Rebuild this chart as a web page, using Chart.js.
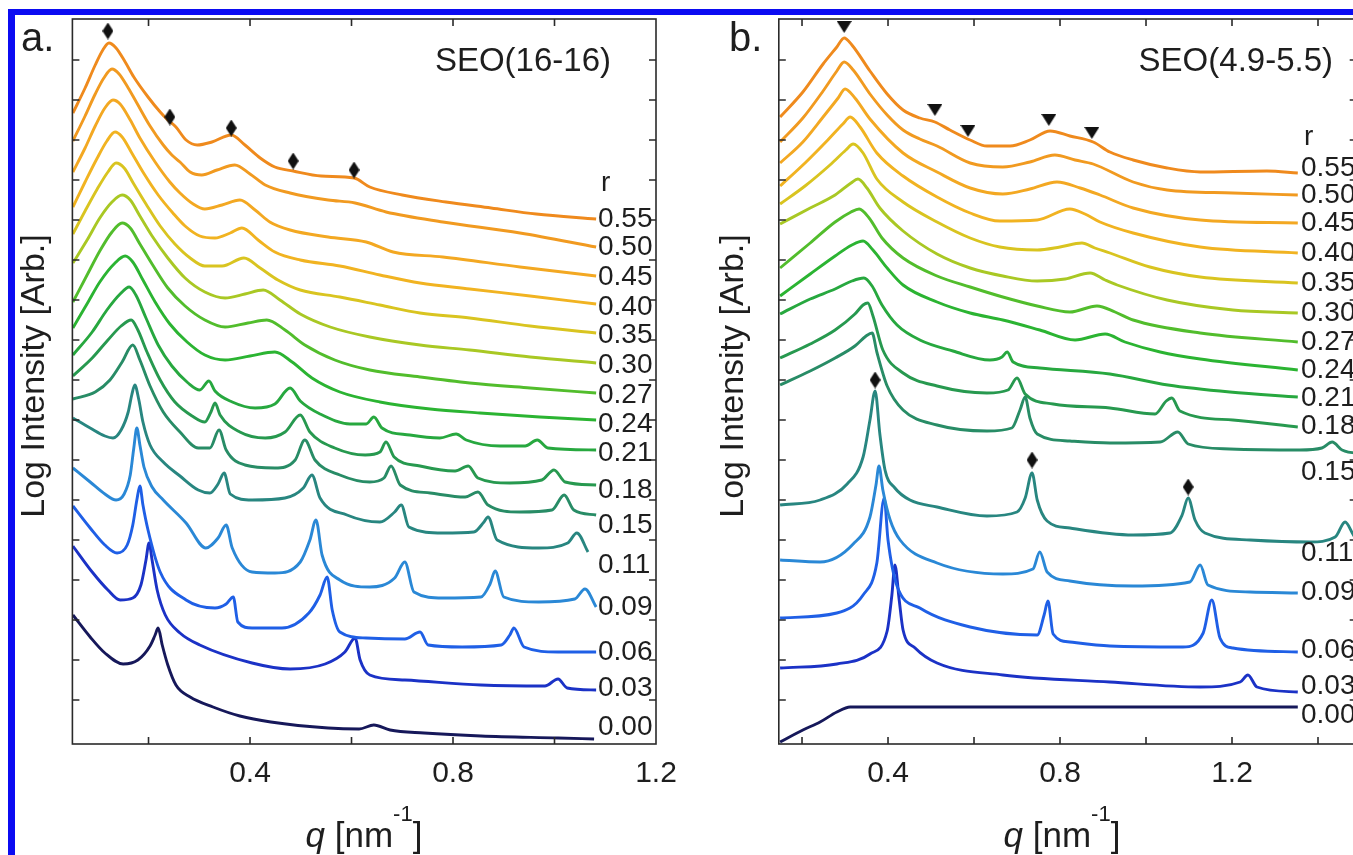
<!DOCTYPE html>
<html>
<head>
<meta charset="utf-8">
<script src="https://cdn.jsdelivr.net/npm/chart.js@4.4.1/dist/chart.umd.min.js"></script>
<style>
  html, body { margin: 0; padding: 0; background: #fff; }
  #wrap { position: relative; width: 1353px; height: 855px; overflow: hidden; background: #fff; }
  #wrap canvas { position: absolute; top: 0; }
  #chartA { left: 0; }
  #chartB { left: 700px; }
  #frame { position: absolute; left: 8px; top: 9px; width: 1400px; height: 900px;
           border-top: 6px solid #0b0bf2; border-left: 7px solid #0b0bf2; }
</style>
</head>
<body>
<div id="wrap">
  <canvas id="chartA" width="700" height="855"></canvas>
  <canvas id="chartB" width="700" height="855"></canvas>
  <div id="frame"></div>
</div>
<script>
// ---- data: q [nm^-1] vs log intensity (arb., stacked) ----
const rLabels = ['0.55','0.50','0.45','0.40','0.35','0.30','0.27','0.24','0.21','0.18','0.15','0.11','0.09','0.06','0.03','0.00'];
const rColors = ['#ef8a1d','#f19a20','#f3a822','#f1b321','#d9c420','#a9c824','#52bd2c','#2bb432',
                 '#27a83f','#27994f','#288c66','#288680','#2a88d6','#1f5fe6','#1b32c6','#16185a'];
const qTicks = [0.2, 0.4, 0.6, 0.8, 1.0, 1.2, 1.4];
const qLabelled = [0.4, 0.8, 1.2];
const levelTicks = [44, 84, 124, 164, 204, 244, 284, 324, 364, 404, 444, 484, 524, 564, 604, 644, 684];

// panel a: SEO(16-16)
const a55 = [[0.051,631],[0.075,656],[0.095,679],[0.110,694],[0.122,701],[0.136,696],[0.154,682],[0.171,667],[0.199,647],[0.223,632],[0.238,624],[0.254,617],[0.274,604],[0.296,599],[0.325,602],[0.363,609],[0.390,599],[0.420,586],[0.449,577],[0.485,573],[0.540,568],[0.605,566],[0.636,557],[0.700,549],[0.786,542],[0.875,536],[0.964,530],[1.082,525]];
const a50 = [[0.051,603],[0.075,628],[0.095,650],[0.112,666],[0.128,675],[0.142,670],[0.160,656],[0.177,641],[0.203,618],[0.229,599],[0.246,589],[0.262,582],[0.282,572],[0.305,569],[0.335,574],[0.370,579],[0.400,570],[0.430,559],[0.479,551],[0.554,544],[0.607,541],[0.668,532],[0.780,522],[0.932,511],[1.082,497]];
const a45 = [[0.051,572],[0.075,596],[0.095,618],[0.114,636],[0.130,644],[0.144,640],[0.164,624],[0.183,606],[0.213,582],[0.242,562],[0.262,551],[0.288,540],[0.311,535],[0.345,539],[0.380,544],[0.410,534],[0.439,522],[0.479,514],[0.554,507],[0.629,502],[0.682,492],[0.780,487],[0.932,477],[1.082,468]];
const a40 = [[0.051,537],[0.075,562],[0.099,586],[0.118,603],[0.134,612],[0.148,607],[0.167,591],[0.189,572],[0.219,549],[0.248,531],[0.272,518],[0.301,508],[0.331,506],[0.361,511],[0.384,516],[0.416,504],[0.449,492],[0.499,484],[0.577,478],[0.656,469],[0.735,461],[0.833,455],[0.952,448],[1.082,440]];
const a35 = [[0.051,510],[0.075,533],[0.099,555],[0.120,572],[0.136,581],[0.152,576],[0.171,560],[0.195,540],[0.223,518],[0.252,500],[0.282,486],[0.311,478],[0.345,478],[0.388,486],[0.420,476],[0.455,464],[0.499,454],[0.577,447],[0.656,439],[0.735,431],[0.833,426],[0.952,418],[1.082,411]];
const a30 = [[0.051,481],[0.079,504],[0.104,526],[0.128,542],[0.148,549],[0.164,544],[0.183,528],[0.207,508],[0.238,486],[0.272,466],[0.311,452],[0.351,446],[0.390,450],[0.426,454],[0.459,444],[0.499,430],[0.558,417],[0.636,407],[0.735,399],[0.833,394],[0.952,387],[1.082,381]];
const a27 = [[0.051,442],[0.081,471],[0.104,493],[0.128,512],[0.148,521],[0.164,516],[0.183,500],[0.207,480],[0.238,456],[0.272,438],[0.311,424],[0.351,417],[0.396,421],[0.433,424],[0.469,414],[0.508,399],[0.567,384],[0.636,374],[0.735,367],[0.833,361],[0.952,356],[1.082,351]];
const a24 = [[0.051,416],[0.081,442],[0.104,462],[0.134,481],[0.154,488],[0.169,482],[0.189,464],[0.213,442],[0.242,420],[0.276,402],[0.311,389],[0.351,384],[0.400,388],[0.449,392],[0.483,382],[0.522,366],[0.577,352],[0.656,342],[0.755,335],[0.853,331],[0.971,327],[1.082,324]];
const a21 = [[0.051,389],[0.089,412],[0.118,434],[0.144,450],[0.162,457],[0.175,449],[0.195,426],[0.219,399],[0.246,378],[0.278,361],[0.301,354],[0.319,363],[0.331,353],[0.365,342],[0.410,336],[0.449,340],[0.479,356],[0.499,343],[0.538,330],[0.597,320],[0.629,320],[0.644,327],[0.660,316],[0.715,309],[0.774,306],[0.806,310],[0.826,304],[0.893,298],[0.942,298],[0.966,304],[0.987,296],[1.082,294]];
const a18 = [[0.051,368],[0.089,386],[0.120,404],[0.146,418],[0.166,424],[0.179,414],[0.197,392],[0.223,364],[0.252,342],[0.286,328],[0.311,322],[0.323,332],[0.331,341],[0.341,329],[0.380,312],[0.430,306],[0.469,312],[0.499,329],[0.518,312],[0.567,296],[0.627,289],[0.656,292],[0.668,302],[0.684,287],[0.735,278],[0.804,273],[0.830,278],[0.849,266],[0.912,261],[0.975,264],[0.999,274],[1.021,262],[1.082,259]];
const a15 = [[0.051,345],[0.095,352],[0.124,364],[0.148,382],[0.169,399],[0.183,384],[0.203,358],[0.229,332],[0.262,312],[0.298,296],[0.321,296],[0.339,314],[0.353,294],[0.390,279],[0.449,276],[0.489,284],[0.508,304],[0.528,284],[0.577,269],[0.636,262],[0.664,266],[0.678,278],[0.696,259],[0.755,251],[0.824,247],[0.849,252],[0.869,239],[0.932,232],[0.995,234],[1.019,249],[1.038,234],[1.082,229]];
const a11 = [[0.051,326],[0.085,316],[0.114,308],[0.130,306],[0.146,314],[0.160,332],[0.167,349],[0.173,359],[0.181,344],[0.189,322],[0.203,299],[0.229,282],[0.262,268],[0.298,254],[0.321,251],[0.337,260],[0.349,271],[0.361,250],[0.404,244],[0.469,246],[0.505,256],[0.522,269],[0.538,246],[0.591,229],[0.656,222],[0.685,232],[0.698,239],[0.713,217],[0.780,211],[0.841,212],[0.861,222],[0.869,227],[0.887,204],[0.969,196],[1.026,201],[1.044,211],[1.066,192]];
const a09 = [[0.051,276],[0.085,262],[0.114,250],[0.136,244],[0.152,250],[0.164,269],[0.171,296],[0.177,316],[0.183,299],[0.191,277],[0.207,257],[0.229,244],[0.274,221],[0.313,196],[0.337,206],[0.353,219],[0.365,196],[0.404,172],[0.449,171],[0.499,182],[0.518,204],[0.530,224],[0.542,189],[0.577,164],[0.636,157],[0.685,166],[0.705,182],[0.723,152],[0.780,146],[0.855,147],[0.873,160],[0.883,173],[0.900,147],[0.969,142],[1.040,145],[1.060,155],[1.082,137]];
const a06 = [[0.051,238],[0.085,216],[0.114,199],[0.138,191],[0.158,199],[0.169,219],[0.177,244],[0.183,258],[0.189,239],[0.199,214],[0.223,172],[0.274,144],[0.331,136],[0.353,140],[0.367,147],[0.376,122],[0.404,116],[0.463,116],[0.516,131],[0.538,149],[0.552,167],[0.562,134],[0.577,112],[0.629,106],[0.705,105],[0.735,112],[0.751,99],[0.818,97],[0.895,99],[0.912,109],[0.920,116],[0.940,97],[1.007,92],[1.082,92]];
const a03 = [[0.051,198],[0.089,172],[0.120,154],[0.144,144],[0.169,146],[0.185,159],[0.195,184],[0.201,201],[0.207,184],[0.217,154],[0.233,129],[0.262,111],[0.301,99],[0.404,81],[0.479,75],[0.548,80],[0.587,92],[0.607,106],[0.617,84],[0.636,69],[0.705,64],[0.855,59],[0.981,58],[1.007,65],[1.025,56],[1.082,54]];
const a00 = [[0.051,129],[0.085,107],[0.114,91],[0.150,80],[0.179,84],[0.203,98],[0.213,109],[0.219,116],[0.227,99],[0.238,79],[0.254,59],[0.282,47],[0.327,37],[0.380,28],[0.441,22],[0.554,16],[0.615,15],[0.644,19],[0.676,14],[0.743,11],[0.855,8],[1.007,6],[1.078,5]];

// panel b: SEO(4.9-5.5)
const b55 = [[0.149,627],[0.202,652],[0.249,680],[0.281,697],[0.298,706],[0.316,699],[0.358,673],[0.398,650],[0.435,634],[0.474,626],[0.509,622],[0.544,614],[0.591,604],[0.630,598],[0.684,598],[0.730,604],[0.777,613],[0.823,608],[0.877,602],[0.916,592],[0.970,584],[1.049,576],[1.126,572],[1.281,573],[1.353,571]];
const b50 = [[0.149,602],[0.202,626],[0.249,653],[0.281,673],[0.298,682],[0.319,674],[0.358,650],[0.398,629],[0.435,614],[0.474,605],[0.514,598],[0.591,581],[0.667,577],[0.730,582],[0.788,589],[0.835,584],[0.877,580],[0.970,562],[1.049,554],[1.202,551],[1.353,549]];
const b45 = [[0.149,581],[0.202,602],[0.249,627],[0.284,646],[0.300,655],[0.323,646],[0.358,625],[0.435,591],[0.514,572],[0.591,556],[0.667,550],[0.730,555],[0.793,562],[0.847,556],[0.893,549],[0.970,536],[1.126,524],[1.353,521]];
const b40 = [[0.149,558],[0.207,581],[0.260,604],[0.295,620],[0.312,627],[0.335,617],[0.374,591],[0.435,568],[0.514,547],[0.591,531],[0.660,523],[0.747,524],[0.823,535],[0.858,530],[0.893,522],[0.970,511],[1.126,497],[1.353,491]];
const b35 = [[0.149,540],[0.207,558],[0.265,579],[0.302,594],[0.319,600],[0.342,591],[0.374,565],[0.435,542],[0.514,522],[0.591,506],[0.660,497],[0.747,494],[0.800,497],[0.851,501],[0.881,496],[0.916,491],[1.009,477],[1.126,467],[1.353,461]];
const b30 = [[0.149,520],[0.219,536],[0.277,549],[0.314,561],[0.330,565],[0.351,556],[0.381,536],[0.435,513],[0.514,490],[0.591,476],[0.667,468],[0.747,463],[0.812,465],[0.870,471],[0.905,464],[0.933,459],[1.049,444],[1.202,434],[1.353,431]];
const b27 = [[0.149,476],[0.219,501],[0.277,522],[0.314,532],[0.333,535],[0.356,526],[0.386,506],[0.435,486],[0.514,468],[0.591,457],[0.667,447],[0.747,438],[0.823,432],[0.886,438],[0.928,432],[0.970,424],[1.126,411],[1.353,402]];
const b24 = [[0.149,448],[0.219,470],[0.277,488],[0.316,499],[0.342,503],[0.365,494],[0.398,476],[0.435,459],[0.514,442],[0.591,431],[0.667,424],[0.753,414],[0.835,404],[0.905,410],[0.951,402],[1.033,392],[1.126,385],[1.353,374]];
const b21 = [[0.149,430],[0.219,445],[0.277,455],[0.316,463],[0.344,466],[0.363,458],[0.386,439],[0.421,419],[0.474,404],[0.551,393],[0.637,384],[0.665,387],[0.677,392],[0.691,382],[0.753,376],[0.916,370],[1.051,359],[1.195,352],[1.353,347]];
const b18 = [[0.149,386],[0.219,400],[0.277,414],[0.323,430],[0.342,439],[0.353,441],[0.365,428],[0.388,394],[0.435,371],[0.514,358],[0.630,351],[0.679,354],[0.700,366],[0.719,350],[0.784,340],[0.916,336],[1.021,330],[1.047,343],[1.060,346],[1.079,333],[1.202,324],[1.353,317]];
const b15 = [[0.149,359],[0.219,373],[0.277,386],[0.323,398],[0.349,408],[0.363,411],[0.374,392],[0.398,358],[0.435,334],[0.514,319],[0.630,313],[0.688,316],[0.707,334],[0.719,347],[0.730,326],[0.747,310],[0.823,303],[0.916,301],[1.033,302],[1.074,312],[1.098,300],[1.195,295],[1.358,294],[1.409,296],[1.433,302],[1.456,294],[1.509,290]];
const b11 = [[0.149,239],[0.242,244],[0.305,260],[0.342,287],[0.358,324],[0.370,353],[0.381,310],[0.393,274],[0.416,256],[0.451,244],[0.514,237],[0.630,228],[0.700,232],[0.719,246],[0.735,271],[0.747,244],[0.770,223],[0.823,216],[0.970,209],[1.056,211],[1.084,229],[1.098,246],[1.114,224],[1.137,211],[1.242,204],[1.381,202],[1.440,207],[1.463,222],[1.486,207],[1.509,204]];
const b09 = [[0.149,184],[0.242,182],[0.319,200],[0.358,227],[0.372,259],[0.379,278],[0.388,254],[0.405,224],[0.428,204],[0.514,181],[0.667,170],[0.737,175],[0.753,192],[0.770,172],[0.823,163],[0.970,158],[1.102,162],[1.126,179],[1.144,159],[1.242,152],[1.353,151]];
const b06 = [[0.149,126],[0.281,131],[0.342,149],[0.374,181],[0.391,246],[0.400,204],[0.421,158],[0.474,136],[0.591,117],[0.747,109],[0.763,129],[0.772,143],[0.784,110],[0.823,102],[0.916,98],[1.086,97],[1.133,111],[1.153,144],[1.172,106],[1.202,96],[1.353,92]];
const b03 = [[0.149,76],[0.281,80],[0.358,90],[0.398,113],[0.409,149],[0.416,179],[0.426,144],[0.435,114],[0.463,96],[0.514,81],[0.667,69],[0.916,62],[1.126,57],[1.219,62],[1.237,69],[1.258,57],[1.353,52]];
const b00 = [[0.149,2],[0.202,14],[0.242,22],[0.281,32],[0.312,37],[0.428,37],[0.893,37],[1.353,37]];

// peak markers
const diamondsA = [[0.120,713],[0.242,627],[0.363,616],[0.485,583],[0.605,574]];
const trianglesB = [[0.298,717],[0.509,634],[0.586,613],[0.774,624],[0.874,611]];
const diamondsB = [[0.370,364],[0.735,284],[1.098,257]];

// ---- layout ----
const FONT = '"Liberation Sans", Arial, Helvetica, sans-serif';
const INK = '#1e1e1e';
const labelYA = [219,247,277,307,335,365,395,424,453,490,525,565,607,652,688,727];
const labelYB = [168,195,223,253,283,313,342,370,398,426,472,553,592,650,686,715];

function diamondImg() {
  const c = document.createElement('canvas');
  c.width = 11; c.height = 17;
  const g = c.getContext('2d');
  g.fillStyle = '#111';
  g.beginPath();
  g.moveTo(5.5, 0); g.lineTo(11, 8.5); g.lineTo(5.5, 17); g.lineTo(0, 8.5);
  g.closePath(); g.fill();
  return c;
}
function triangleImg() {
  const c = document.createElement('canvas');
  c.width = 15; c.height = 12;
  const g = c.getContext('2d');
  g.fillStyle = '#111';
  g.beginPath();
  g.moveTo(0, 0); g.lineTo(15, 0); g.lineTo(7.5, 12);
  g.closePath(); g.fill();
  return c;
}

function toXY(arr) { return arr.map(p => ({x: p[0], y: p[1]})); }

function decor(p) {
  return {
    id: 'decor',
    afterDraw(chart) {
      const {ctx, chartArea: a} = chart;
      const xs = chart.scales.x, ys = chart.scales.y;
      ctx.save();
      // frame + inward ticks
      ctx.strokeStyle = '#2a2a2a';
      ctx.lineWidth = 1.6;
      ctx.strokeRect(a.left, a.top, a.right - a.left, a.bottom - a.top);
      ctx.beginPath();
      qTicks.forEach(q => {
        if (q <= xs.min || q >= xs.max) return;
        const x = xs.getPixelForValue(q);
        ctx.moveTo(x, a.bottom); ctx.lineTo(x, a.bottom - 7);
        ctx.moveTo(x, a.top); ctx.lineTo(x, a.top + 7);
      });
      levelTicks.forEach(v => {
        const y = ys.getPixelForValue(v);
        ctx.moveTo(a.left, y); ctx.lineTo(a.left + 7, y);
        ctx.moveTo(a.right, y); ctx.lineTo(a.right - 7, y);
      });
      ctx.stroke();

      ctx.fillStyle = INK;
      // tick labels
      ctx.font = '30px ' + FONT;
      ctx.textAlign = 'center';
      ctx.textBaseline = 'alphabetic';
      qLabelled.forEach(q => {
        if (q > xs.max + 1e-6) return;
        ctx.fillText(q.toFixed(1), xs.getPixelForValue(q), 782);
      });

      // x title: q [nm^-1]
      const parts = [
        {t: 'q', f: 'italic 35px ' + FONT, dy: 0},
        {t: ' [nm', f: '35px ' + FONT, dy: 0},
        {t: '-1', f: '22px ' + FONT, dy: -26},
        {t: ']', f: '35px ' + FONT, dy: 0}
      ];
      let w = 0;
      parts.forEach(s => { ctx.font = s.f; s.w = ctx.measureText(s.t).width; w += s.w; });
      let xx = p.xTitleX - p.off - w / 2;
      ctx.textAlign = 'left';
      parts.forEach(s => { ctx.font = s.f; ctx.fillText(s.t, xx, 847 + s.dy); xx += s.w; });

      // y title
      ctx.save();
      ctx.translate(p.yTitleX - p.off, 376);
      ctx.rotate(-Math.PI / 2);
      ctx.font = '34px ' + FONT;
      ctx.textAlign = 'center';
      ctx.textBaseline = 'middle';
      ctx.fillText('Log Intensity [Arb.]', 0, 0);
      ctx.restore();

      // panel letter and sample name
      ctx.font = '40px ' + FONT;
      ctx.textAlign = 'left';
      ctx.textBaseline = 'alphabetic';
      ctx.fillText(p.letter, p.letterX - p.off, 51);
      ctx.font = '33px ' + FONT;
      ctx.textAlign = 'right';
      ctx.fillText(p.sample, p.sampleRight - p.off, 71);

      // r column
      ctx.font = '28px ' + FONT;
      ctx.textAlign = 'left';
      ctx.textBaseline = 'middle';
      ctx.fillText('r', p.rHead[0] - p.off, p.rHead[1]);
      rLabels.forEach((r, i) => ctx.fillText(r, p.labelX - p.off, p.labelY[i]));
      ctx.restore();
    }
  };
}

function makePanel(p) {
  const datasets = p.curves.map((c, i) => ({
    label: 'r = ' + rLabels[i],
    data: toXY(c),
    borderColor: rColors[i],
    borderWidth: 2.9,
    pointRadius: 0,
    fill: false,
    cubicInterpolationMode: 'monotone'
  }));
  p.markers.forEach(m => datasets.push({
    type: 'scatter',
    label: 'marker',
    data: toXY(m.pts),
    pointStyle: m.img,
    pointRadius: 7,
    showLine: false,
    order: -1
  }));
  return new Chart(document.getElementById(p.canvas), {
    type: 'line',
    data: {datasets},
    options: {
      responsive: false,
      animation: false,
      devicePixelRatio: 1,
      layout: {padding: p.pad},
      plugins: {legend: {display: false}, tooltip: {enabled: false}},
      scales: {
        x: {type: 'linear', min: p.qMin, max: p.qMax, display: false},
        y: {type: 'linear', min: 0, max: 725, display: false}
      }
    },
    plugins: [decor(p)]
  });
}

const dia = diamondImg();
const tri = triangleImg();

makePanel({
  canvas: 'chartA', off: 0, qMin: 0.05, qMax: 1.2,
  pad: {left: 72.4, right: 44, top: 19, bottom: 111},
  curves: [a55, a50, a45, a40, a35, a30, a27, a24, a21, a18, a15, a11, a09, a06, a03, a00],
  markers: [{pts: diamondsA, img: dia}],
  letter: 'a.', letterX: 21, sample: 'SEO(16-16)', sampleRight: 611,
  labelX: 598, labelY: labelYA, rHead: [601, 183],
  xTitleX: 364, yTitleX: 35
});

makePanel({
  canvas: 'chartB', off: 700, qMin: 0.146, qMax: 1.49,
  pad: {left: 78.8, right: 43.3, top: 19, bottom: 111},
  curves: [b55, b50, b45, b40, b35, b30, b27, b24, b21, b18, b15, b11, b09, b06, b03, b00],
  markers: [{pts: trianglesB, img: tri}, {pts: diamondsB, img: dia}],
  letter: 'b.', letterX: 729, sample: 'SEO(4.9-5.5)', sampleRight: 1333,
  labelX: 1301, labelY: labelYB, rHead: [1304, 137],
  xTitleX: 1062, yTitleX: 734
});
</script>
</body>
</html>
